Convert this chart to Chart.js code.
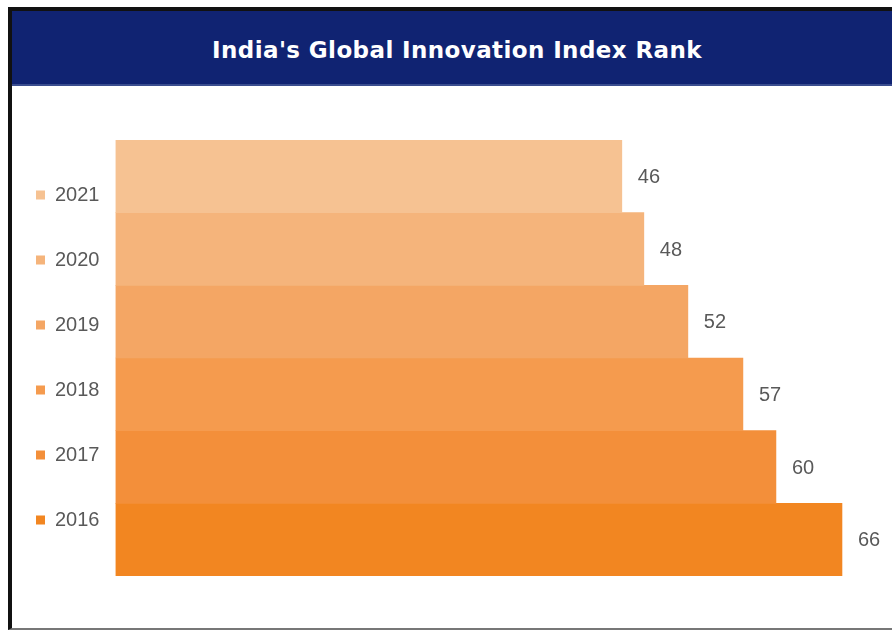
<!DOCTYPE html>
<html>
<head>
<meta charset="utf-8">
<script src="https://cdn.jsdelivr.net/npm/chart.js@4.4.1/dist/chart.umd.min.js"></script>
<style>
  body { margin: 0; background: #fff; width: 892px; height: 631px; overflow: hidden; position: relative; }
  #frame {
    position: absolute; left: 8px; top: 7px; width: 900px; height: 617px;
    border-left: 4px solid #111; border-top: 4px solid #111; border-bottom: 2px solid #777;
  }
  #header {
    position: absolute; left: 0; top: 0; height: 75px; width: 880px;
    background: #102372; border-bottom: 2px solid #3a4d8f;
    color: #fff; font: bold 23px 'DejaVu Sans', Verdana, sans-serif; letter-spacing: 0.4px;
    display: flex; align-items: center; justify-content: center;
    box-sizing: border-box; padding-top: 4px; padding-left: 10px;
  }
  #vis { position: absolute; left: -9px; top: 86px; width: 901px; height: 542px; }
</style>
</head>
<body>
<div id="frame"><div id="header">India's Global Innovation Index Rank</div></div>
<div id="vis"><canvas id="visplot"></canvas></div>
<script>
// data
const years = ['2021', '2020', '2019', '2018', '2017', '2016']
const ranks = [46, 48, 52, 57, 60, 66]
const barColours = ['#F6C292', '#F5B47B', '#F4A664', '#F59B4E', '#F38F3A', '#F28621']

Chart.defaults.font.family = "'Liberation Sans', Arial, sans-serif"
Chart.defaults.color = '#595959'
Chart.defaults.maintainAspectRatio = false

// rank numbers to the right of each bar
const valueLabels = {
    id: 'valueLabels',
    afterDatasetsDraw(chart) {
        let ctx = chart.ctx
        ctx.save()
        ctx.font = "20px 'Liberation Sans', Arial, sans-serif"
        ctx.fillStyle = '#595959'
        ctx.textBaseline = 'middle'
        ctx.textAlign = 'left'
        chart.data.datasets.forEach((ds, i) => {
            let bar = chart.getDatasetMeta(i).data[0]
            ctx.fillText(ds.data[0], bar.x + 16, bar.y + 1)
        })
        ctx.restore()
    }
}

new Chart('visplot', {
    type: 'bar',
    data: {
        labels: [''],
        datasets: years.map((y, i) => ({
            label: y,
            data: [ranks[i]],
            backgroundColor: barColours[i],
            borderWidth: 0,
            categoryPercentage: 1,
            barPercentage: 1
        }))
    },
    options: {
        indexAxis: 'y',
        animation: false,
        layout: { padding: { top: 54, bottom: 52, left: 0, right: 6 } },
        scales: {
            x: { display: false, min: 0, max: 70 },
            y: {
                grid: { display: false },
                border: { display: false },
                ticks: { display: false },
                afterFit: (scale) => { scale.width = 6 }
            }
        },
        plugins: {
            tooltip: { enabled: false },
            legend: {
                position: 'left',
                align: 'start',
                labels: {
                    boxWidth: 9,
                    boxHeight: 9,
                    padding: 45,
                    color: '#595959',
                    font: { size: 20 }
                }
            }
        }
    },
    plugins: [valueLabels]
})
</script>
</body>
</html>
